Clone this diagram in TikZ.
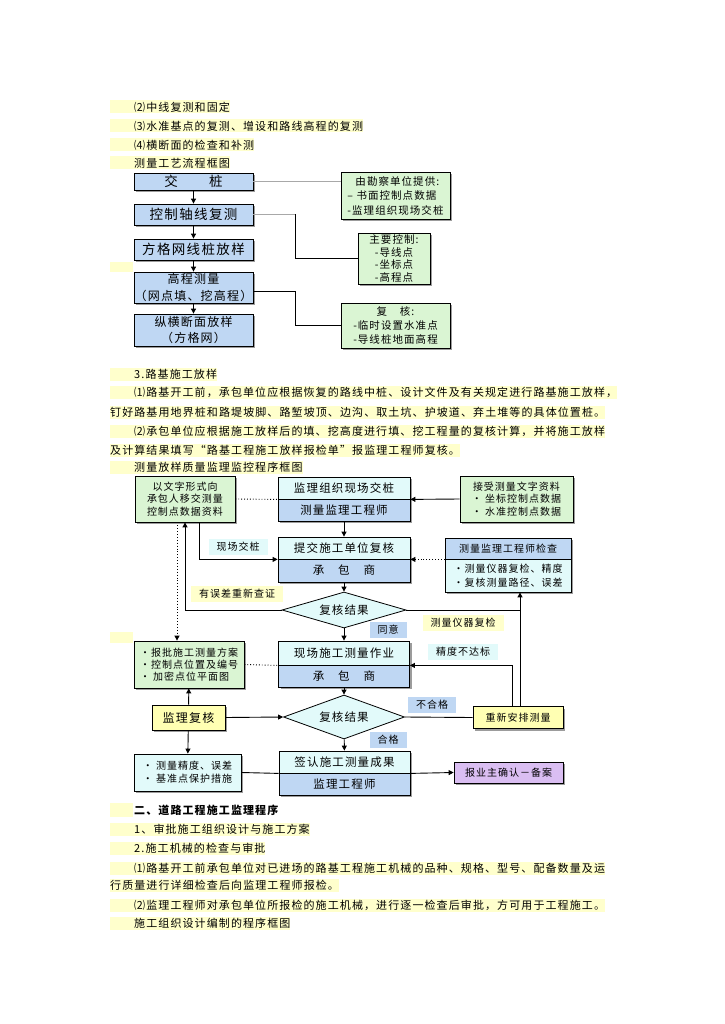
\documentclass[tikz,border=0pt]{standalone}
\usepackage{fontspec}
\setmainfont{Noto Sans CJK SC}[LetterSpace=10]
\usetikzlibrary{arrows.meta, shapes.geometric, shadows, positioning, calc}
\definecolor{hilite}{HTML}{FFFFCC}
\definecolor{boxBlue}{HTML}{BFD7F3}
\definecolor{boxGreen}{HTML}{DAF5D3}
\definecolor{boxCyan}{HTML}{E2FAFA}
\definecolor{boxYellow}{HTML}{FFFFB3}
\definecolor{boxPurple}{HTML}{DABEF2}
\definecolor{shade}{HTML}{9C9C9C}
\definecolor{lineGrey}{HTML}{A8A8A8}
\newcommand{\fsBody}{\fontsize{11}{13}\selectfont}
\newcommand{\fsBig}{\fontsize{13.5}{15}\selectfont}
\newcommand{\fsTwo}{\fontsize{12}{16.5}\selectfont}
\newcommand{\fsMid}{\fontsize{11.5}{14}\selectfont}
\newcommand{\fsSmall}{\fontsize{10}{12.5}\selectfont}
\newcommand{\fsTag}{\fontsize{10}{12}\selectfont}

\begin{document}
\begin{tikzpicture}[x=1pt, y=-1pt,
  para/.style={anchor=west, fill=hilite, inner xsep=0pt, inner ysep=0pt,
               minimum height=13pt, font=\fsBody},
  box/.style={draw, line width=0.8pt, inner sep=0pt, align=center,
              drop shadow={shadow xshift=2pt, shadow yshift=-2pt,
                           fill=shade, opacity=1}},
  flowbox/.style={box, fill=boxBlue, minimum width=119pt},
  notebox/.style={box, fill=boxGreen, font=\fsSmall},
  decision/.style={diamond, draw, line width=0.8pt, fill=boxCyan,
                   inner sep=0pt, aspect=3.4, font=\fsMid},
  tag/.style={inner xsep=8pt, inner ysep=3pt, font=\fsTag},
  arr/.style={-{Triangle[length=5pt,width=5pt]}, line width=0.9pt},
  dotarr/.style={arr, dotted},
  link/.style={line width=0.9pt}]
  \fill[white] (0,0) rectangle (724,1024);
  \useasboundingbox (0,0) rectangle (724,1024);

  % text above the first chart
  \node[para] (t1) at (110,107) {\hspace*{24pt}⑵中线复测和固定};
  \node[para] (t2) at (110,126) {\hspace*{24pt}⑶水准基点的复测、增设和路线高程的复测};
  \node[para] (t3) at (110,145) {\hspace*{24pt}⑷横断面的检查和补测};
  \node[para] (t4) at (110,163) {\hspace*{24pt}测量工艺流程框图};
  \fill[hilite] (110,262) rectangle (133,272);

  % survey process chart
  \node[flowbox, minimum height=17pt, font=\fsBig] (stake) at (193.5,181.5) {交　　桩};
  \node[flowbox, minimum height=21pt, font=\fsBig] (axis) at (193.5,214.5) {控制轴线复测};
  \node[flowbox, minimum height=21pt, font=\fsBig] (grid) at (193.5,249.5) {方格网线桩放样};
  \node[flowbox, minimum height=31pt, font=\fsTwo] (level) at (193.5,287.5)
    {高程测量\\（网点填、挖高程）};
  \node[flowbox, minimum height=32pt, font=\fsTwo] (section) at (193.5,330)
    {纵横断面放样\\（方格网）};
  \draw[arr] (stake) -- (axis);
  \draw[arr] (axis) -- (grid);
  \draw[arr] (grid) -- (level);
  \draw[arr] (level) -- (section);

  \node[notebox, minimum width=109pt, minimum height=47pt, align=left,
        font=\fontsize{10.5}{14.5}\selectfont] (survInfo) at (395.5,195.5)
    {\hspace*{8pt}由勘察单位提供:\\– 书面控制点数据\\-监理组织现场交桩};
  \node[notebox, minimum width=72pt, minimum height=51pt,
        font=\fontsize{10.5}{12.5}\selectfont] (mainCtrl) at (394,258.5)
    {主要控制:\\-导线点\\-坐标点\\-高程点};
  \node[notebox, minimum width=109pt, minimum height=45pt,
        font=\fontsize{10.5}{14}\selectfont] (recheck) at (395.5,325.5)
    {复　核:\\-临时设置水准点\\-导线桩地面高程};
  \coordinate (bend1) at (295,0);
  \draw[link, lineGrey] (stake.east) -- (stake.east -| survInfo.west);
  \draw[link, lineGrey] (axis.east) -- (axis.east -| bend1);
  \draw[link] (axis.east -| bend1) |- (mainCtrl.west);
  \draw[link] ([yshift=-4pt]level.east) -| (bend1 |- recheck.west) -- (recheck.west);

  % text between the charts
  \node[para] (s1) at (110,374) {\hspace*{24pt}3.路基施工放样};
  \node[para] (s2) at (110,392)
    {\hspace*{24pt}⑴路基开工前，承包单位应根据恢复的路线中桩、设计文件及有关规定进行路基施工放样，};
  \node[para] (s3) at (110,412)
    {钉好路基用地界桩和路堤坡脚、路堑坡顶、边沟、取土坑、护坡道、弃土堆等的具体位置桩。};
  \node[para] (s4) at (110,431)
    {\hspace*{24pt}⑵承包单位应根据施工放样后的填、挖高度进行填、挖工程量的复核计算，并将施工放样};
  \node[para] (s5) at (110,450)
    {及计算结果填写“路基工程施工放样报检单”报监理工程师复核。};
  \node[para] (s6) at (110,467) {\hspace*{24pt}测量放样质量监理监控程序框图};
  \fill[hilite] (110,632) rectangle (133,643);

  % stake-out supervision chart
  \node[notebox, minimum width=100pt, minimum height=46pt] (transfer) at (185,499)
    {以文字形式向\\承包人移交测量\\控制点数据资料};
  \node[box, fill=boxCyan, minimum width=132pt, minimum height=22pt, font=\fsMid]
    (handover) at (344,488) {监理组织现场交桩};
  \node[box, fill=boxBlue, minimum width=132pt, minimum height=22pt, font=\fsMid]
    (handoverEng) at (344,510) {测量监理工程师};
  \node[notebox, minimum width=113pt, minimum height=46pt] (receive) at (516.5,499)
    {接受测量文字资料\\• 坐标控制点数据\\• 水准控制点数据};
  \node[box, fill=boxCyan, minimum width=132pt, minimum height=22pt, font=\fsMid]
    (submit) at (344,548) {提交施工单位复核};
  \node[box, fill=boxBlue, minimum width=132pt, minimum height=23pt, font=\fsMid]
    (submitCon) at (344,570.5) {承　包　商};
  \node[box, fill=boxBlue, minimum width=126pt, minimum height=21pt, font=\fsSmall]
    (check) at (508,548.5) {测量监理工程师检查};
  \node[box, fill=boxCyan, minimum width=126pt, minimum height=33pt,
        font=\fontsize{10}{14}\selectfont] (checkBody) at (508,575.5)
    {•测量仪器复检、精度\\•复核测量路径、误差};
  \node[decision, minimum width=124pt, minimum height=36pt] (result1) at (344,610) {复核结果};
  \node[box, fill=boxCyan, minimum width=131pt, minimum height=24pt, font=\fsMid]
    (fieldwork) at (344,653) {现场施工测量作业};
  \node[box, fill=boxBlue, minimum width=131pt, minimum height=22pt, font=\fsMid]
    (fieldCon) at (344,676) {承　包　商};
  \node[notebox, minimum width=110pt, minimum height=47pt, align=left,
        font=\fontsize{10}{12}\selectfont] (plan) at (189,664.5)
    {•报批施工测量方案\\•控制点位置及编号\\• 加密点位平面图};
  \node[decision, minimum width=121pt, minimum height=44pt] (result2) at (344,717) {复核结果};
  \node[box, fill=boxYellow, minimum width=73pt, minimum height=25pt,
        font=\fontsize{12}{14}\selectfont] (supReview) at (188.5,717.5) {监理复核};
  \node[box, fill=boxCyan, minimum width=107pt, minimum height=37pt, align=left,
        font=\fontsize{10}{13}\selectfont] (precision) at (187.5,772.5)
    {• 测量精度、误差\\• 基准点保护措施};
  \node[box, fill=boxYellow, minimum width=90pt, minimum height=22pt, font=\fsSmall]
    (redo) at (518,717.5) {重新安排测量};
  \node[box, fill=boxCyan, minimum width=131pt, minimum height=22pt, font=\fsMid]
    (confirm) at (344.5,762) {签认施工测量成果};
  \node[box, fill=boxBlue, minimum width=131pt, minimum height=22pt, font=\fsMid]
    (confirmEng) at (344.5,784) {监理工程师};
  \node[box, fill=boxPurple, minimum width=109pt, minimum height=21pt, font=\fsSmall]
    (owner) at (508.5,772.5) {报业主确认－备案};

  % connectors
  \coordinate (tr1) at ([xshift=14pt]transfer.south);
  \coordinate (tr2) at ([xshift=-8pt]transfer.south);
  \coordinate (rd1) at ([xshift=2pt]redo.north);
  \coordinate (rd2) at ([xshift=-6pt]redo.north);
  \draw[link, dotted] (transfer.east) -- (handover.south west);
  \draw[arr] (receive.west) -- (handover.south east);
  \draw[arr] (handoverEng) -- (submit);
  \draw[arr] (tr1) |- (submit.south west);
  \draw[dotarr] (check.south west) -- (submit.south east);
  \draw[arr] (submitCon) -- (result1);
  \draw[arr] (result1.west) -| (transfer.south);
  \draw[link] (result1.east) -- (result1.east -| rd1);
  \draw[arr] (rd1) -- (rd1 |- checkBody.south);
  \draw[dotarr] (tr2) -- (tr2 |- plan.north);
  \draw[arr] (result1) -- (fieldwork);
  \draw[link, dotted] (plan.east) -- (fieldwork.south west);
  \draw[arr] (rd2) |- (fieldwork.south east);
  \draw[arr] (fieldCon) -- (result2);
  \draw[arr] (supReview.east) -- (result2.west);
  \draw[arr] (supReview) -- (plan);
  \draw[arr] (supReview) -- (precision);
  \draw[link] (result2.east) -- (redo.west);
  \draw[arr] (result2) -- (confirm);
  \draw[link] (precision.east) -- (confirm.south west);
  \draw[arr] (confirm.south east) -- (owner.west);

  % labels on the connectors
  \node[tag, fill=boxCyan] (lbHand) at (238,547) {现场交桩};
  \node[tag, fill=hilite] (lbErr) at (237,594) {有误差重新查证};
  \node[tag, fill=hilite] (lbInst) at (463,623) {测量仪器复检};
  \node[tag, fill=boxBlue] (lbAgree) at (388,630) {同意};
  \node[tag, fill=boxCyan] (lbPrec) at (463,652) {精度不达标};
  \node[tag, fill=boxBlue] (lbFail) at (432,705) {不合格};
  \node[tag, fill=boxBlue] (lbPass) at (388,740) {合格};

  % text below the charts
  \fill[hilite] (110,803) rectangle (133,817);
  \node[para, fill=none] (u1) at (110,810) {\hspace*{24pt}\bfseries 二、道路工程施工监理程序};
  \node[para] (u2) at (110,829) {\hspace*{24pt}1、审批施工组织设计与施工方案};
  \node[para] (u3) at (110,848) {\hspace*{24pt}2.施工机械的检查与审批};
  \node[para] (u4) at (110,868)
    {\hspace*{24pt}⑴路基开工前承包单位对已进场的路基工程施工机械的品种、规格、型号、配备数量及运};
  \node[para] (u5) at (110,885) {行质量进行详细检查后向监理工程师报检。};
  \node[para] (u6) at (110,905)
    {\hspace*{24pt}⑵监理工程师对承包单位所报检的施工机械，进行逐一检查后审批，方可用于工程施工。};
  \node[para] (u7) at (110,923) {\hspace*{24pt}施工组织设计编制的程序框图};
\end{tikzpicture}
\end{document}
